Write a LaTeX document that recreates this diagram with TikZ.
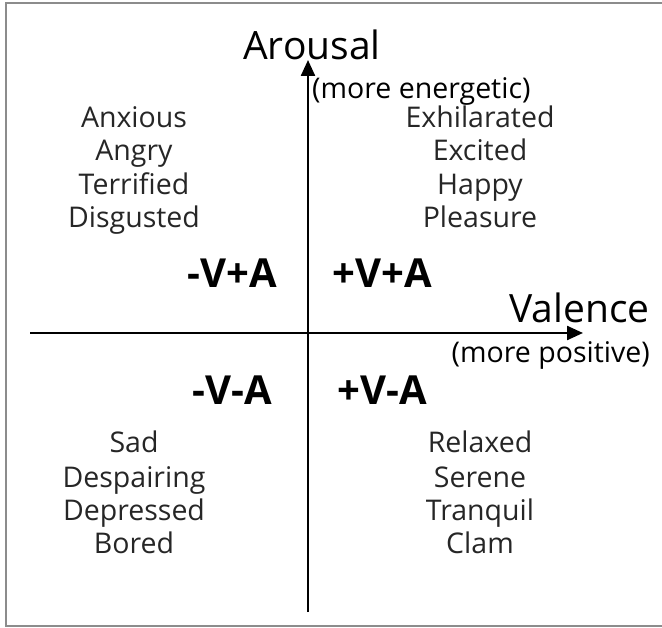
\documentclass[tikz,border=0pt]{standalone}
\usepackage{fontspec}
\setmainfont{Open Sans}
\usetikzlibrary{arrows.meta}

\begin{document}
\begin{tikzpicture}[x=1pt,y=-1pt]
	\tikzstyle{frame} = [draw=gray!90, line width=2pt]
	\tikzstyle{axis} = [line width=2.4pt, -{Triangle[length=16pt,width=14pt]}]
	\tikzstyle{axis_name} = [inner sep=0pt, font=\fontsize{39}{39}\selectfont]
	\tikzstyle{axis_note} = [inner sep=0pt, font=\fontsize{28.5}{28.5}\selectfont]
	\tikzstyle{emo} = [inner sep=0pt, anchor=base, font=\fontsize{28.5}{28.5}\selectfont, text=black!85]
	\tikzstyle{quad} = [inner sep=0pt, anchor=base, font=\bfseries\fontsize{40}{40}\selectfont]
	\def\leftcol{134}
	\def\rightcol{480}

	\useasboundingbox (0,0) rectangle (662,628);
	\draw[frame] (662,3.5) -- (6,3.5) -- (6,626) -- (662,626);

	% axes
	\coordinate (v_bot) at (308,612);
	\coordinate (v_top) at (308,60);
	\coordinate (h_left) at (30,333);
	\coordinate (h_right) at (583,333);
	\draw[axis] (v_bot) -- (v_top);
	\draw[axis] (h_left) -- (h_right);

	\node[axis_name, anchor=base] (arousal) at (312,60) {Arousal};
	\node[axis_note, anchor=west] (energetic) at (312,91) {(more energetic)};
	\node[axis_name, anchor=base east] (valence) at (650,323) {Valence};
	\node[axis_note, anchor=east] (positive) at (650,355) {(more positive)};

	% quadrants
	\foreach \name/\txt/\x/\y in {nvpa/-V+A/232/288, pvpa/+V+A/382/288, nvna/-V-A/232/405, pvna/+V-A/382/405}
		\node[quad] (\name) at (\x,\y) {\txt};

	% emotion words
	\foreach \name/\y in {Anxious/128, Angry/161, Terrified/195, Disgusted/228, Sad/453, Despairing/487, Depressed/520, Bored/553}
		\node[emo] (\name) at (\leftcol,\y) {\name};
	\foreach \name/\y in {Exhilarated/128, Excited/161, Happy/195, Pleasure/228, Relaxed/453, Serene/487, Tranquil/520, Clam/553}
		\node[emo] (\name) at (\rightcol,\y) {\name};

\end{tikzpicture}
\end{document}
